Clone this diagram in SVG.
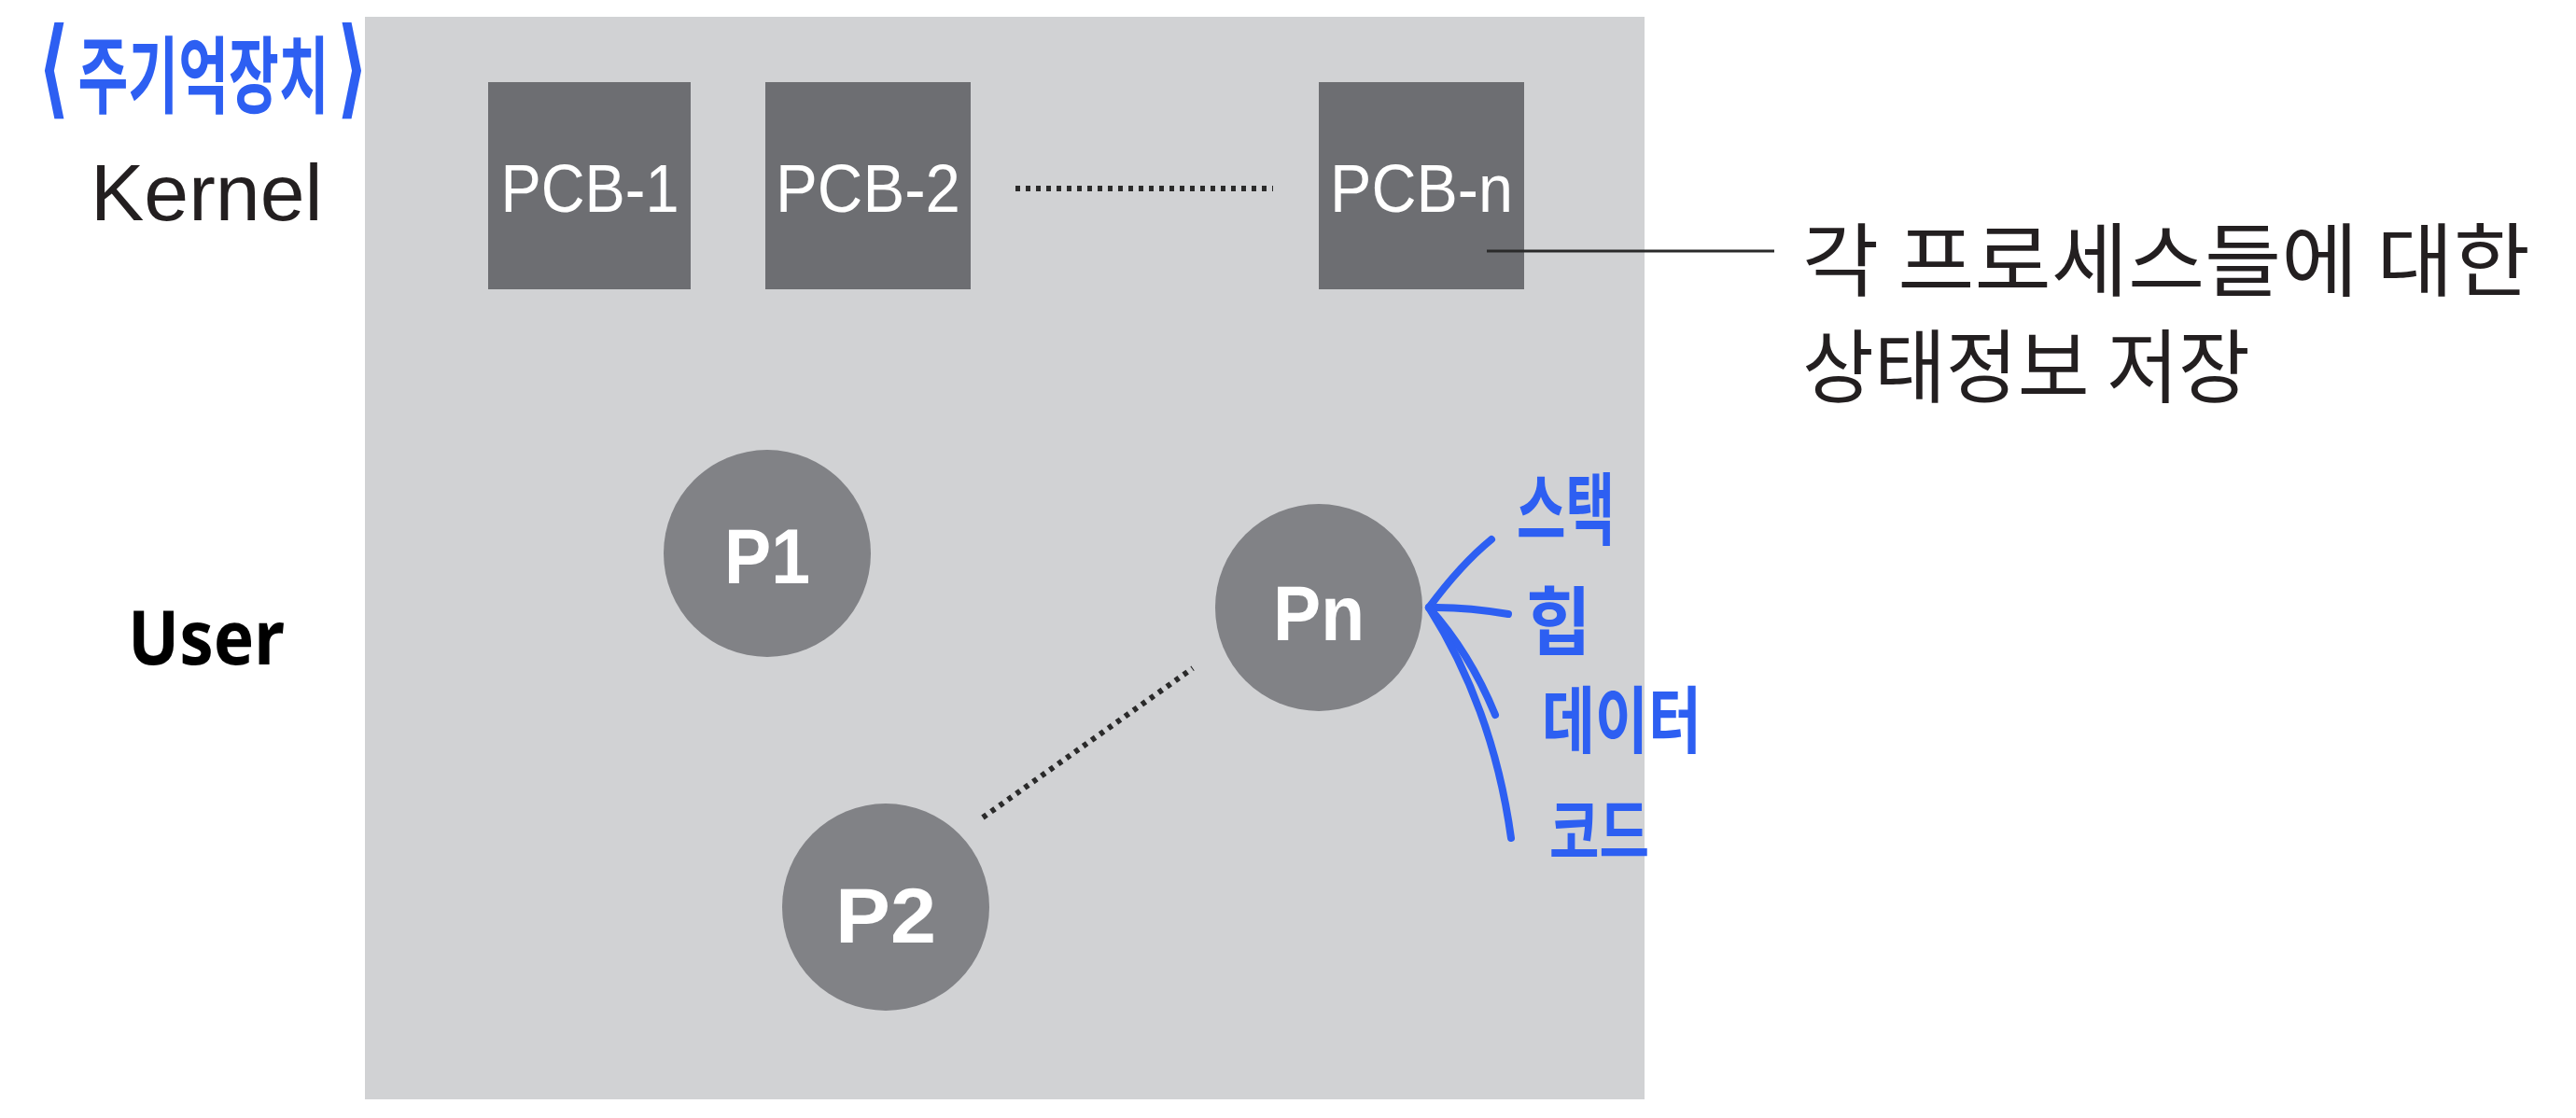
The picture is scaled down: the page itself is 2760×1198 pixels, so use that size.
<svg xmlns="http://www.w3.org/2000/svg" width="2760" height="1198" viewBox="0 0 2760 1198">
<style>
.pcb{fill:#6d6e72}
.proc{fill:#818286}
.wlabel{font-family:"Liberation Sans",Arial,sans-serif;fill:#ffffff;text-anchor:middle}
.dots{stroke:#2a2a2a;stroke-width:6;stroke-dasharray:5 6;fill:none}
.hand{font-family:"Noto Sans CJK KR","Noto Sans",sans-serif;font-weight:bold;fill:#2d5ff2}
.brk{font-family:"DejaVu Sans",sans-serif;font-weight:bold;fill:#2d5ff2}
.pen{stroke:#2d5ff2;stroke-width:8;stroke-linecap:round;fill:none}
.desc{font-family:"Noto Sans CJK KR",sans-serif;fill:#231f20}
</style>
<rect width="2760" height="1198" fill="#ffffff"/>
<rect id="memory" x="391" y="18" width="1371" height="1160" fill="#d1d2d4"/>
<g id="mainmem-label">
<text transform="translate(40,114) scale(0.65,1)" class="hand"><tspan class="brk" font-size="116" dy="-2">⟨</tspan><tspan class="hand" font-size="90" dx="14" dy="2">주기억장치</tspan><tspan class="brk" font-size="116" dx="12" dy="-2">⟩</tspan></text>
</g>
<text x="97" y="236" font-family="Liberation Sans,Arial,sans-serif" font-size="86" fill="#231f20">Kernel</text>
<text x="137" y="712" font-family="Noto Sans,sans-serif" font-size="80" font-weight="bold" fill="#000000" textLength="168" lengthAdjust="spacingAndGlyphs">User</text>
<g id="pcb1"><rect class="pcb" x="523" y="88" width="217" height="222"/><text class="wlabel" x="632" y="227" font-size="73" textLength="191" lengthAdjust="spacingAndGlyphs">PCB-1</text></g>
<g id="pcb2"><rect class="pcb" x="820" y="88" width="220" height="222"/><text class="wlabel" x="930" y="227" font-size="73" textLength="198" lengthAdjust="spacingAndGlyphs">PCB-2</text></g>
<g id="pcbn"><rect class="pcb" x="1413" y="88" width="220" height="222"/><text class="wlabel" x="1523" y="227" font-size="73" textLength="196" lengthAdjust="spacingAndGlyphs">PCB-n</text></g>
<g id="p1"><circle class="proc" cx="822" cy="593" r="111"/><text class="wlabel" x="822" y="625" font-size="84" font-weight="bold" textLength="92" lengthAdjust="spacingAndGlyphs">P1</text></g>
<g id="pn"><circle class="proc" cx="1413" cy="651" r="111"/><text class="wlabel" x="1413" y="686" font-size="84" font-weight="bold" textLength="98" lengthAdjust="spacingAndGlyphs">Pn</text></g>
<g id="p2"><circle class="proc" cx="949" cy="972" r="111"/><text class="wlabel" x="949" y="1010" font-size="84" font-weight="bold" textLength="108" lengthAdjust="spacingAndGlyphs">P2</text></g>
<g id="connectors">
<line class="dots" x1="1088" y1="202" x2="1364" y2="202"/>
<line class="dots" x1="1053" y1="876" x2="1278" y2="716"/>
<line x1="1593" y1="269" x2="1901" y2="269" stroke="#2a2a2a" stroke-width="3"/>
<path class="pen" d="M1531 651 Q1565 605 1598 578"/>
<path class="pen" d="M1531 651 Q1570 650 1616 658"/>
<path class="pen" d="M1531 651 Q1575 700 1602 766"/>
<path class="pen" d="M1531 651 Q1600 760 1619 898"/>
</g>
<text x="1931" y="311" class="desc" font-size="86" textLength="780" lengthAdjust="spacingAndGlyphs">각 프로세스들에 대한</text>
<text x="1931" y="425" class="desc" font-size="86" textLength="480" lengthAdjust="spacingAndGlyphs">상태정보 저장</text>
<text x="1625" y="577" class="hand" font-size="84" textLength="105" lengthAdjust="spacingAndGlyphs">스택</text>
<text x="1635" y="695" class="hand" font-size="80" textLength="70" lengthAdjust="spacingAndGlyphs">힙</text>
<text x="1652" y="801" class="hand" font-size="78" textLength="171" lengthAdjust="spacingAndGlyphs">데이터</text>
<text x="1660" y="919" class="hand" font-size="76" textLength="107" lengthAdjust="spacingAndGlyphs">코드</text>
</svg>
